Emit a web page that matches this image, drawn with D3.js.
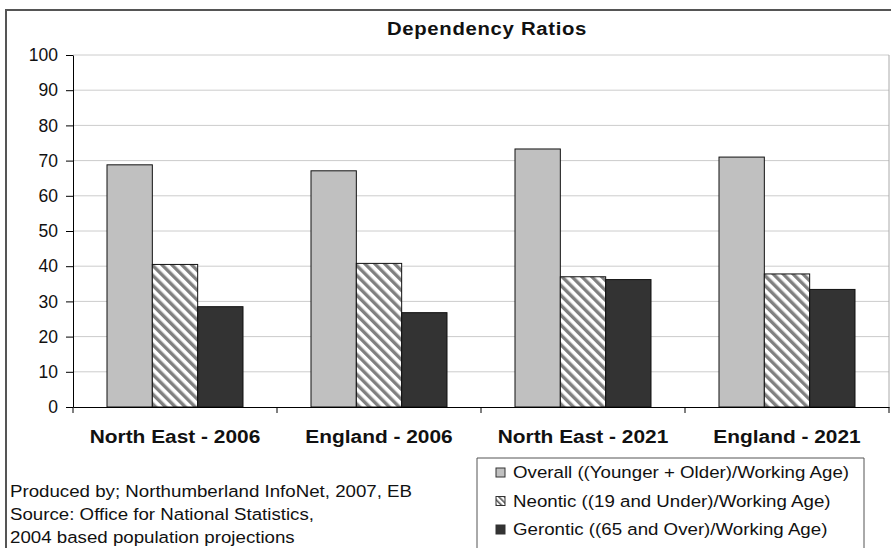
<!DOCTYPE html>
<html>
<head>
<meta charset="utf-8">
<script src="https://cdn.jsdelivr.net/npm/d3@7"></script>
<style>
  html, body { margin: 0; padding: 0; background: #fff; }
  svg { display: block; font-family: Arial, "Liberation Sans", sans-serif; }
</style>
</head>
<body>
<svg id="chart" width="891" height="548"></svg>
<script>
// Dependency ratios by area and year
const categories = ["North East - 2006", "England - 2006", "North East - 2021", "England - 2021"];
const seriesNames = [
  "Overall ((Younger + Older)/Working Age)",
  "Neontic ((19 and Under)/Working Age)",
  "Gerontic ((65 and Over)/Working Age)"
];
const overall  = [68.8, 67.1, 73.3, 71.0];
const neontic  = [40.5, 40.8, 37.0, 37.8];
const gerontic = [28.5, 26.8, 36.2, 33.4];
const yTicks = [0, 10, 20, 30, 40, 50, 60, 70, 80, 90, 100];
const notes = [
  "Produced by; Northumberland InfoNet, 2007, EB",
  "Source: Office for National Statistics,",
  "2004 based population projections"
];

const series = [overall, neontic, gerontic];
const fills = ["#c0c0c0", "url(#hatch)", "#333333"];
const FONT = "Arial, 'Liberation Sans', sans-serif";

const svg = d3.select("#chart");

// diagonal hatch for the neontic series
const defs = svg.append("defs");
const pat = defs.append("pattern")
  .attr("id", "hatch")
  .attr("patternUnits", "userSpaceOnUse")
  .attr("width", 7).attr("height", 7)
  .attr("patternTransform", "rotate(-45)");
pat.append("rect").attr("width", 7).attr("height", 7).attr("fill", "#fff");
pat.append("rect").attr("x", 0).attr("width", 3.4).attr("height", 7).attr("fill", "#808080");

const legendHatch = defs.append("pattern")
  .attr("id", "hatchSmall")
  .attr("patternUnits", "userSpaceOnUse")
  .attr("width", 4).attr("height", 4)
  .attr("patternTransform", "rotate(-45)");
legendHatch.append("rect").attr("width", 4).attr("height", 4).attr("fill", "#fff");
legendHatch.append("rect").attr("width", 1.6).attr("height", 4).attr("fill", "#555");

// outer chart frame
svg.append("path")
  .attr("d", "M6,548 V10 H891")
  .attr("fill", "none").attr("stroke", "#555").attr("stroke-width", 2);

const plot = { left: 73, right: 889, top: 55, bottom: 407 };

const x = d3.scaleBand().domain(categories).range([plot.left, plot.right]).paddingInner(0).paddingOuter(0);
// three bars per category with a 0.75-bar gap on each side
const x1 = d3.scaleBand().domain(d3.range(series.length)).range([0, x.bandwidth()])
  .paddingInner(0).paddingOuter(0.75);
const y = d3.scaleLinear().domain([0, 100]).range([plot.bottom, plot.top]);

// gridlines
svg.append("g").selectAll("line").data(yTicks.filter(d => d > 0)).join("line")
  .attr("x1", plot.left).attr("x2", plot.right)
  .attr("y1", d => y(d)).attr("y2", d => y(d))
  .attr("stroke", "#cccccc").attr("stroke-width", 1);

// plot area right border
svg.append("line")
  .attr("x1", plot.right).attr("x2", plot.right)
  .attr("y1", plot.top).attr("y2", plot.bottom)
  .attr("stroke", "#aaaaaa").attr("stroke-width", 1);

// bars
const groups = svg.append("g").selectAll("g").data(categories).join("g")
  .attr("transform", d => `translate(${x(d)},0)`);
groups.selectAll("rect")
  .data((c, i) => series.map((s, k) => ({ k, v: s[i] })))
  .join("rect")
  .attr("x", d => x1(d.k))
  .attr("width", x1.bandwidth())
  .attr("y", d => y(d.v))
  .attr("height", d => y(0) - y(d.v))
  .attr("fill", d => fills[d.k])
  .attr("stroke", "#111").attr("stroke-width", 1);

// y axis
const yAxis = svg.append("g")
  .attr("transform", `translate(${plot.left},0)`)
  .call(d3.axisLeft(y).tickValues(yTicks).tickSize(7).tickPadding(8).tickSizeOuter(0));
yAxis.select(".domain").attr("stroke", "#000");
yAxis.selectAll(".tick line").attr("stroke", "#000");
yAxis.selectAll("text").attr("font-size", 17.5).attr("fill", "#111")
  .attr("font-family", FONT);

// x axis
const xAxis = svg.append("g")
  .attr("transform", `translate(0,${plot.bottom})`)
  .call(d3.axisBottom(x).tickSize(0).tickPadding(0).tickSizeOuter(0));
xAxis.select(".domain").attr("stroke", "#000");
xAxis.selectAll("text")
  .attr("y", 0).attr("dy", 0)
  .attr("transform", "translate(0,36) scale(1.13,1)")
  .attr("font-size", 18.5).attr("font-weight", "bold").attr("fill", "#111")
  .attr("font-family", FONT);
// category separators
svg.append("g").selectAll("line")
  .data(categories.map(c => x(c)).concat([x(categories[categories.length - 1]) + x.bandwidth()]))
  .join("line")
  .attr("x1", d => d).attr("x2", d => d)
  .attr("y1", plot.bottom).attr("y2", plot.bottom + 6)
  .attr("stroke", "#000");

// title
svg.append("text")
  .attr("transform", "translate(487,35) scale(1.13,1)")
  .attr("text-anchor", "middle")
  .attr("font-size", 18).attr("font-weight", "bold").attr("fill", "#111")
  .attr("letter-spacing", 0.6)
  .text("Dependency Ratios");

// notes
svg.append("g").selectAll("text").data(notes).join("text")
  .attr("transform", (d, i) => `translate(10,${497 + i * 23}) scale(1.1,1)`)
  .attr("font-size", 17).attr("fill", "#111")
  .text(d => d);

// legend
const lg = svg.append("g");
lg.append("path")
  .attr("d", "M477,548 V458 H864 V548")
  .attr("fill", "#fff").attr("stroke", "#555").attr("stroke-width", 1);
const legendFills = ["#c0c0c0", "url(#hatchSmall)", "#333333"];
const items = lg.selectAll("g").data(seriesNames).join("g")
  .attr("transform", (d, i) => `translate(496,${478 + i * 28.5})`);
items.append("rect")
  .attr("x", 0).attr("y", -10).attr("width", 9).attr("height", 9)
  .attr("fill", (d, i) => legendFills[i]).attr("stroke", "#333").attr("stroke-width", 1);
items.append("text")
  .attr("transform", "translate(17,0) scale(1.1,1)")
  .attr("font-size", 17).attr("fill", "#111")
  .text(d => d);
</script>
</body>
</html>
